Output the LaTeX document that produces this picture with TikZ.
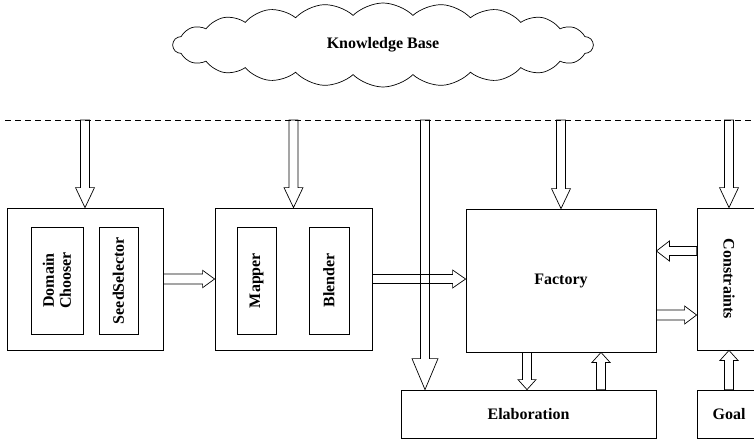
\documentclass[tikz,border=0pt]{standalone}
\usepackage{fontspec}
\setmainfont{Liberation Serif}
\usetikzlibrary{calc, shapes.symbols}

% hollow block arrow: from, to, shaft half width, head half width, head length
\newcommand{\blockarrow}[5]{%
  \coordinate (ba-h) at ($(#2)!#5!(#1)$);
  \draw[blockline] ($(#1)!#3!90:(#2)$) -- ($(ba-h)!#3!90:(#2)$) -- ($(ba-h)!#4!90:(#2)$)
    -- (#2) -- ($(ba-h)!#4!-90:(#2)$) -- ($(ba-h)!#3!-90:(#2)$) -- ($(#1)!#3!-90:(#2)$) -- cycle;}

\begin{document}
\begin{tikzpicture}[x=1pt, y=-1pt,
  box/.style={draw, line width=0.8pt, inner sep=0pt, align=center,
    font=\fontsize{16}{17}\selectfont\bfseries},
  blockline/.style={line width=0.7pt, line join=miter},
  kbcloud/.style={draw, cloud, cloud puffs=22, cloud puff arc=90, cloud ignores aspect,
    minimum width=420, minimum height=84, inner sep=0pt, line width=0.7pt,
    font=\fontsize{16}{17}\selectfont\bfseries}]
\useasboundingbox (0,0) rectangle (754,441);

\node[kbcloud] (kb) at (383,45) {Knowledge Base};
\coordinate (kbl) at (5,120);
\coordinate (kbr) at (754,120);
\draw[line width=0.7pt, dash pattern=on 6pt off 4pt] (kbl) -- (kbr);

% left blocks
\node[box, minimum width=156, minimum height=142] (select) at (85,279) {};
\node[box, rotate=90, minimum width=107, minimum height=52] (domain) at (57,280.5) {Domain\\Chooser};
\node[box, rotate=90, minimum width=107, minimum height=39] (seed) at (118.5,280.5) {SeedSelector};
\node[box, minimum width=157, minimum height=142] (blend) at (293.5,279) {};
\node[box, rotate=90, minimum width=107, minimum height=39] (mapper) at (256.5,280.5) {Mapper};
\node[box, rotate=90, minimum width=107, minimum height=40] (blender) at (329,280.5) {Blender};

% right blocks
\node[box, minimum width=190, minimum height=143] (factory) at (561,280.5) {Factory};
\node[box, minimum width=255, minimum height=48] (elab) at (528.5,414) {Elaboration};
\node[box, rotate=-90, minimum width=142, minimum height=64] (cons) at (729,279) {Constraints};
\node[box, minimum width=64, minimum height=48] (goal) at (729,414) {Goal};

% arrows from the knowledge base
\coordinate (in1) at (select.north |- kbl);
\coordinate (in2) at (blend.north |- kbl);
\coordinate (in3) at (425,120);
\coordinate (in3e) at (in3 |- elab.north);
\coordinate (in4) at (factory.north |- kbl);
\coordinate (in5) at (cons.west |- kbl);
\blockarrow{in1}{select.north}{4.5pt}{9.5pt}{20pt}
\blockarrow{in2}{blend.north}{4.5pt}{9.5pt}{20pt}
\blockarrow{in3}{in3e}{4.5pt}{13pt}{31pt}
\blockarrow{in4}{factory.north}{4.5pt}{9.5pt}{20pt}
\blockarrow{in5}{cons.west}{4.5pt}{9.5pt}{20pt}

% flow between blocks
\coordinate (fw) at (blend.east -| factory.west);
\blockarrow{select.east}{blend.west}{5pt}{8.7pt}{12pt}
\blockarrow{blend.east}{fw}{4.5pt}{9pt}{13pt}
\coordinate (cf1) at ([yshift=28pt]cons.south);
\coordinate (cf2) at (cf1 -| factory.east);
\blockarrow{cf1}{cf2}{4.5pt}{10pt}{13pt}
\coordinate (fc1) at ([yshift=-34.5pt]factory.east);
\coordinate (fc2) at (fc1 -| cons.south);
\blockarrow{fc1}{fc2}{5pt}{9pt}{12pt}
\coordinate (fe1) at ([xshift=-34pt]factory.south);
\coordinate (fe2) at (fe1 |- elab.north);
\blockarrow{fe1}{fe2}{4.5pt}{9pt}{10pt}
\coordinate (ef1) at ([xshift=40pt]factory.south);
\coordinate (ef2) at (ef1 |- elab.north);
\blockarrow{ef2}{ef1}{4.5pt}{9pt}{10pt}
\blockarrow{goal.north}{cons.east}{4.5pt}{9pt}{10pt}
\end{tikzpicture}
\end{document}
